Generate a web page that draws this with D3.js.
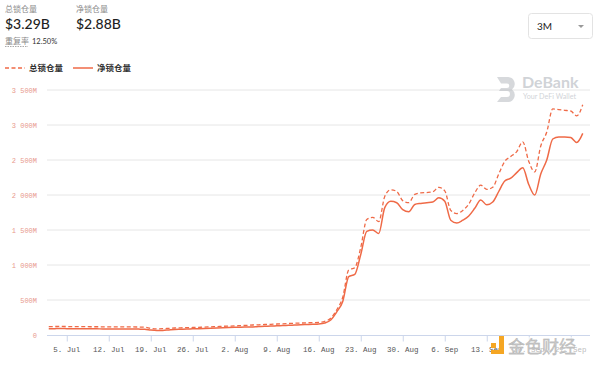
<!DOCTYPE html>
<html><head><meta charset="utf-8">
<script src="https://cdn.jsdelivr.net/npm/d3@7"></script>
<style>
body{margin:0;background:#fff;}
svg{display:block;font-family:"Noto Sans CJK SC","Noto Sans",sans-serif;}
</style></head>
<body><svg id="c" width="600" height="367"></svg>
<script>
const startDate = "2021-07-02";
const totalLocked = [120,121,122,121,120,120,119,118,118,117,117,116,116,115,115,114,112,95,88,90,95,100,103,105,107,110,113,117,120,124,127,130,134,138,143,146,150,153,157,160,164,168,171,174,177,181,
195,240,360,540,930,960,1250,1650,1680,1620,1980,2075,2050,1920,1890,2010,2030,2035,2045,2110,2060,1780,1735,1780,1870,2030,2140,2080,2110,2300,2480,2550,2620,2760,2480,2330,2700,2900,3230,3220,3210,3200,3130,3290];
const netLocked = [90,91,92,91,90,90,89,88,88,87,87,86,86,85,85,84,82,70,64,66,72,78,82,86,88,91,94,97,100,103,106,109,112,114,116,120,124,127,131,135,139,143,147,150,153,157,
172,215,330,480,835,865,1150,1480,1500,1450,1820,1910,1890,1790,1760,1865,1880,1890,1900,1960,1910,1640,1600,1640,1700,1810,1930,1860,1900,2050,2200,2240,2320,2390,2150,2000,2300,2500,2800,2830,2830,2820,2750,2880];
const yTicks = [0,500,1000,1500,2000,2500,3000,3500];
const yTickLabels = ["0","500M","1 000M","1 500M","2 000M","2 500M","3 000M","3 500M"];
const xTickDates = ["2021-07-05","2021-07-12","2021-07-19","2021-07-26","2021-08-02","2021-08-09","2021-08-16","2021-08-23","2021-08-30","2021-09-06","2021-09-13","2021-09-20","2021-09-27"];
const xTickLabels = ["5. Jul","12. Jul","19. Jul","26. Jul","2. Aug","9. Aug","16. Aug","23. Aug","30. Aug","6. Sep","13. Sep","20. Sep","27. Sep"];
const seriesNames = ["总锁仓量","净锁仓量"];
const headline = {total:"$3.29B", net:"$2.88B", dupLabel:"重复率", dup:"12.50%", range:"3M"};

const svg = d3.select("#c");
const parse = d3.utcParse("%Y-%m-%d");
const d0 = parse(startDate);
const dates = totalLocked.map((v,i)=>d3.utcDay.offset(d0,i));
const color = "#ef6a47";

const x = d3.scaleUtc()
  .domain([new Date(Date.UTC(2021,6,1,17)), new Date(Date.UTC(2021,8,30,5))])
  .range([47,590]);
const y = d3.scaleLinear().domain([0,3500]).range([335,90]);

// gridlines
svg.append("g").selectAll("line").data(yTicks.slice(1)).join("line")
  .attr("x1",47).attr("x2",590).attr("y1",d=>y(d)).attr("y2",d=>y(d))
  .attr("stroke","#e6e6e6").attr("stroke-width",1);

// y labels
svg.append("g").selectAll("text").data(yTicks).join("text")
  .attr("x",37).attr("y",d=>y(d)+3).attr("text-anchor","end")
  .attr("font-family","Liberation Mono, DejaVu Sans Mono, monospace").attr("font-size",7)
  .attr("fill","#e89a8e").text((d,i)=>yTickLabels[i]);

// x axis
const xa = svg.append("g").attr("transform","translate(0,335.5)");
xa.append("line").attr("x1",47).attr("x2",590).attr("stroke","#ccd6eb");
xa.selectAll("line.t").data(xTickDates).join("line").attr("class","t")
  .attr("x1",d=>x(parse(d))+0.5).attr("x2",d=>x(parse(d))+0.5).attr("y1",0).attr("y2",6)
  .attr("stroke","#ccd6eb");
xa.selectAll("text").data(xTickDates).join("text")
  .attr("x",d=>x(parse(d))).attr("y",16).attr("text-anchor","middle")
  .attr("font-family","Liberation Mono, DejaVu Sans Mono, monospace").attr("font-size",7.5)
  .attr("fill","#555").text((d,i)=>xTickLabels[i]);

// DeBank watermark
const wm = svg.append("g").attr("opacity",0.4);
wm.append("path").attr("d","M497,77 h11 a7,7 0 0 1 4,12.5 a7,7 0 0 1 -4,12.5 h-11 l4,-5 h6 a3,3 0 0 0 0,-6 h-8 l2,-3 h6 a2.2,2.2 0 0 0 0,-4.5 h-6 z").attr("fill","#9aa0a8");
wm.append("text").attr("x",522).attr("y",88).attr("font-family","Lato, sans-serif").attr("font-weight",700).attr("font-size",16).attr("fill","#8b929c").text("DeBank");
wm.append("text").attr("x",523).attr("y",99).attr("font-family","Lato, sans-serif").attr("font-size",7.2).attr("fill","#8b929c").text("Your DeFi Wallet");

// lines
const line = d3.line().x((d,i)=>x(dates[i])).y(d=>y(d)).curve(d3.curveMonotoneX);
svg.append("path").datum(netLocked).attr("d",line).attr("fill","none").attr("stroke",color).attr("stroke-width",1.5);
svg.append("path").datum(totalLocked).attr("d",line).attr("fill","none").attr("stroke",color).attr("stroke-width",1.3).attr("stroke-dasharray","4,2.5");

// header
svg.append("text").attr("x",5).attr("y",12).attr("font-size",8).attr("fill","#8a8a8a").text(seriesNames[0]);
svg.append("text").attr("x",76).attr("y",12).attr("font-size",8).attr("fill","#8a8a8a").text(seriesNames[1]);
svg.append("text").attr("x",5).attr("y",29).attr("font-family","Lato, sans-serif").attr("font-size",14).attr("font-weight",500).attr("fill","#1f1f1f").text(headline.total);
svg.append("text").attr("x",76).attr("y",29).attr("font-family","Lato, sans-serif").attr("font-size",14).attr("font-weight",500).attr("fill","#1f1f1f").text(headline.net);
svg.append("text").attr("x",5).attr("y",44).attr("font-size",8).attr("fill","#8a8a8a").text(headline.dupLabel);
svg.append("line").attr("x1",5).attr("x2",28).attr("y1",46.5).attr("y2",46.5).attr("stroke","#aaa").attr("stroke-dasharray","1.5,1");
svg.append("text").attr("x",32).attr("y",44).attr("font-family","Lato, sans-serif").attr("font-size",7.5).attr("fill","#333").text(headline.dup);

// legend
svg.append("line").attr("x1",5).attr("x2",25).attr("y1",68).attr("y2",68).attr("stroke",color).attr("stroke-width",1.3).attr("stroke-dasharray","4,2.5");
svg.append("text").attr("x",29).attr("y",71).attr("font-size",8.5).attr("font-weight",700).attr("fill","#333").text(seriesNames[0]);
svg.append("line").attr("x1",73).attr("x2",93).attr("y1",68).attr("y2",68).attr("stroke",color).attr("stroke-width",1.5);
svg.append("text").attr("x",97).attr("y",71).attr("font-size",8.5).attr("font-weight",700).attr("fill","#333").text(seriesNames[1]);

// range selector
svg.append("rect").attr("x",528.5).attr("y",13.5).attr("width",64).attr("height",25).attr("rx",3).attr("fill","#fff").attr("stroke","#e3e3e3");
svg.append("text").attr("x",537).attr("y",30).attr("font-family","Lato, sans-serif").attr("font-size",10).attr("fill","#222").text(headline.range);
svg.append("path").attr("d","M578,25 l3,3 l3,-3 z").attr("fill","#999");

// bottom right source watermark
const jw = svg.append("g");
jw.append("rect").attr("x",505).attr("y",337).attr("width",86).attr("height",19).attr("fill","#fff").attr("opacity",0.6);
jw.append("rect").attr("x",491).attr("y",343).attr("width",5).attr("height",5).attr("fill","#f5a623");
jw.append("rect").attr("x",499).attr("y",336).attr("width",5).attr("height",18).attr("fill","#f5a623");
jw.append("rect").attr("x",491).attr("y",350).attr("width",8).attr("height",4).attr("fill","#f5a623");
jw.append("text").attr("x",508).attr("y",353).attr("font-size",17).attr("fill","#c8c8c8").attr("stroke","#aaa").attr("stroke-width",0.3).text("金色财经");
</script></body></html>
